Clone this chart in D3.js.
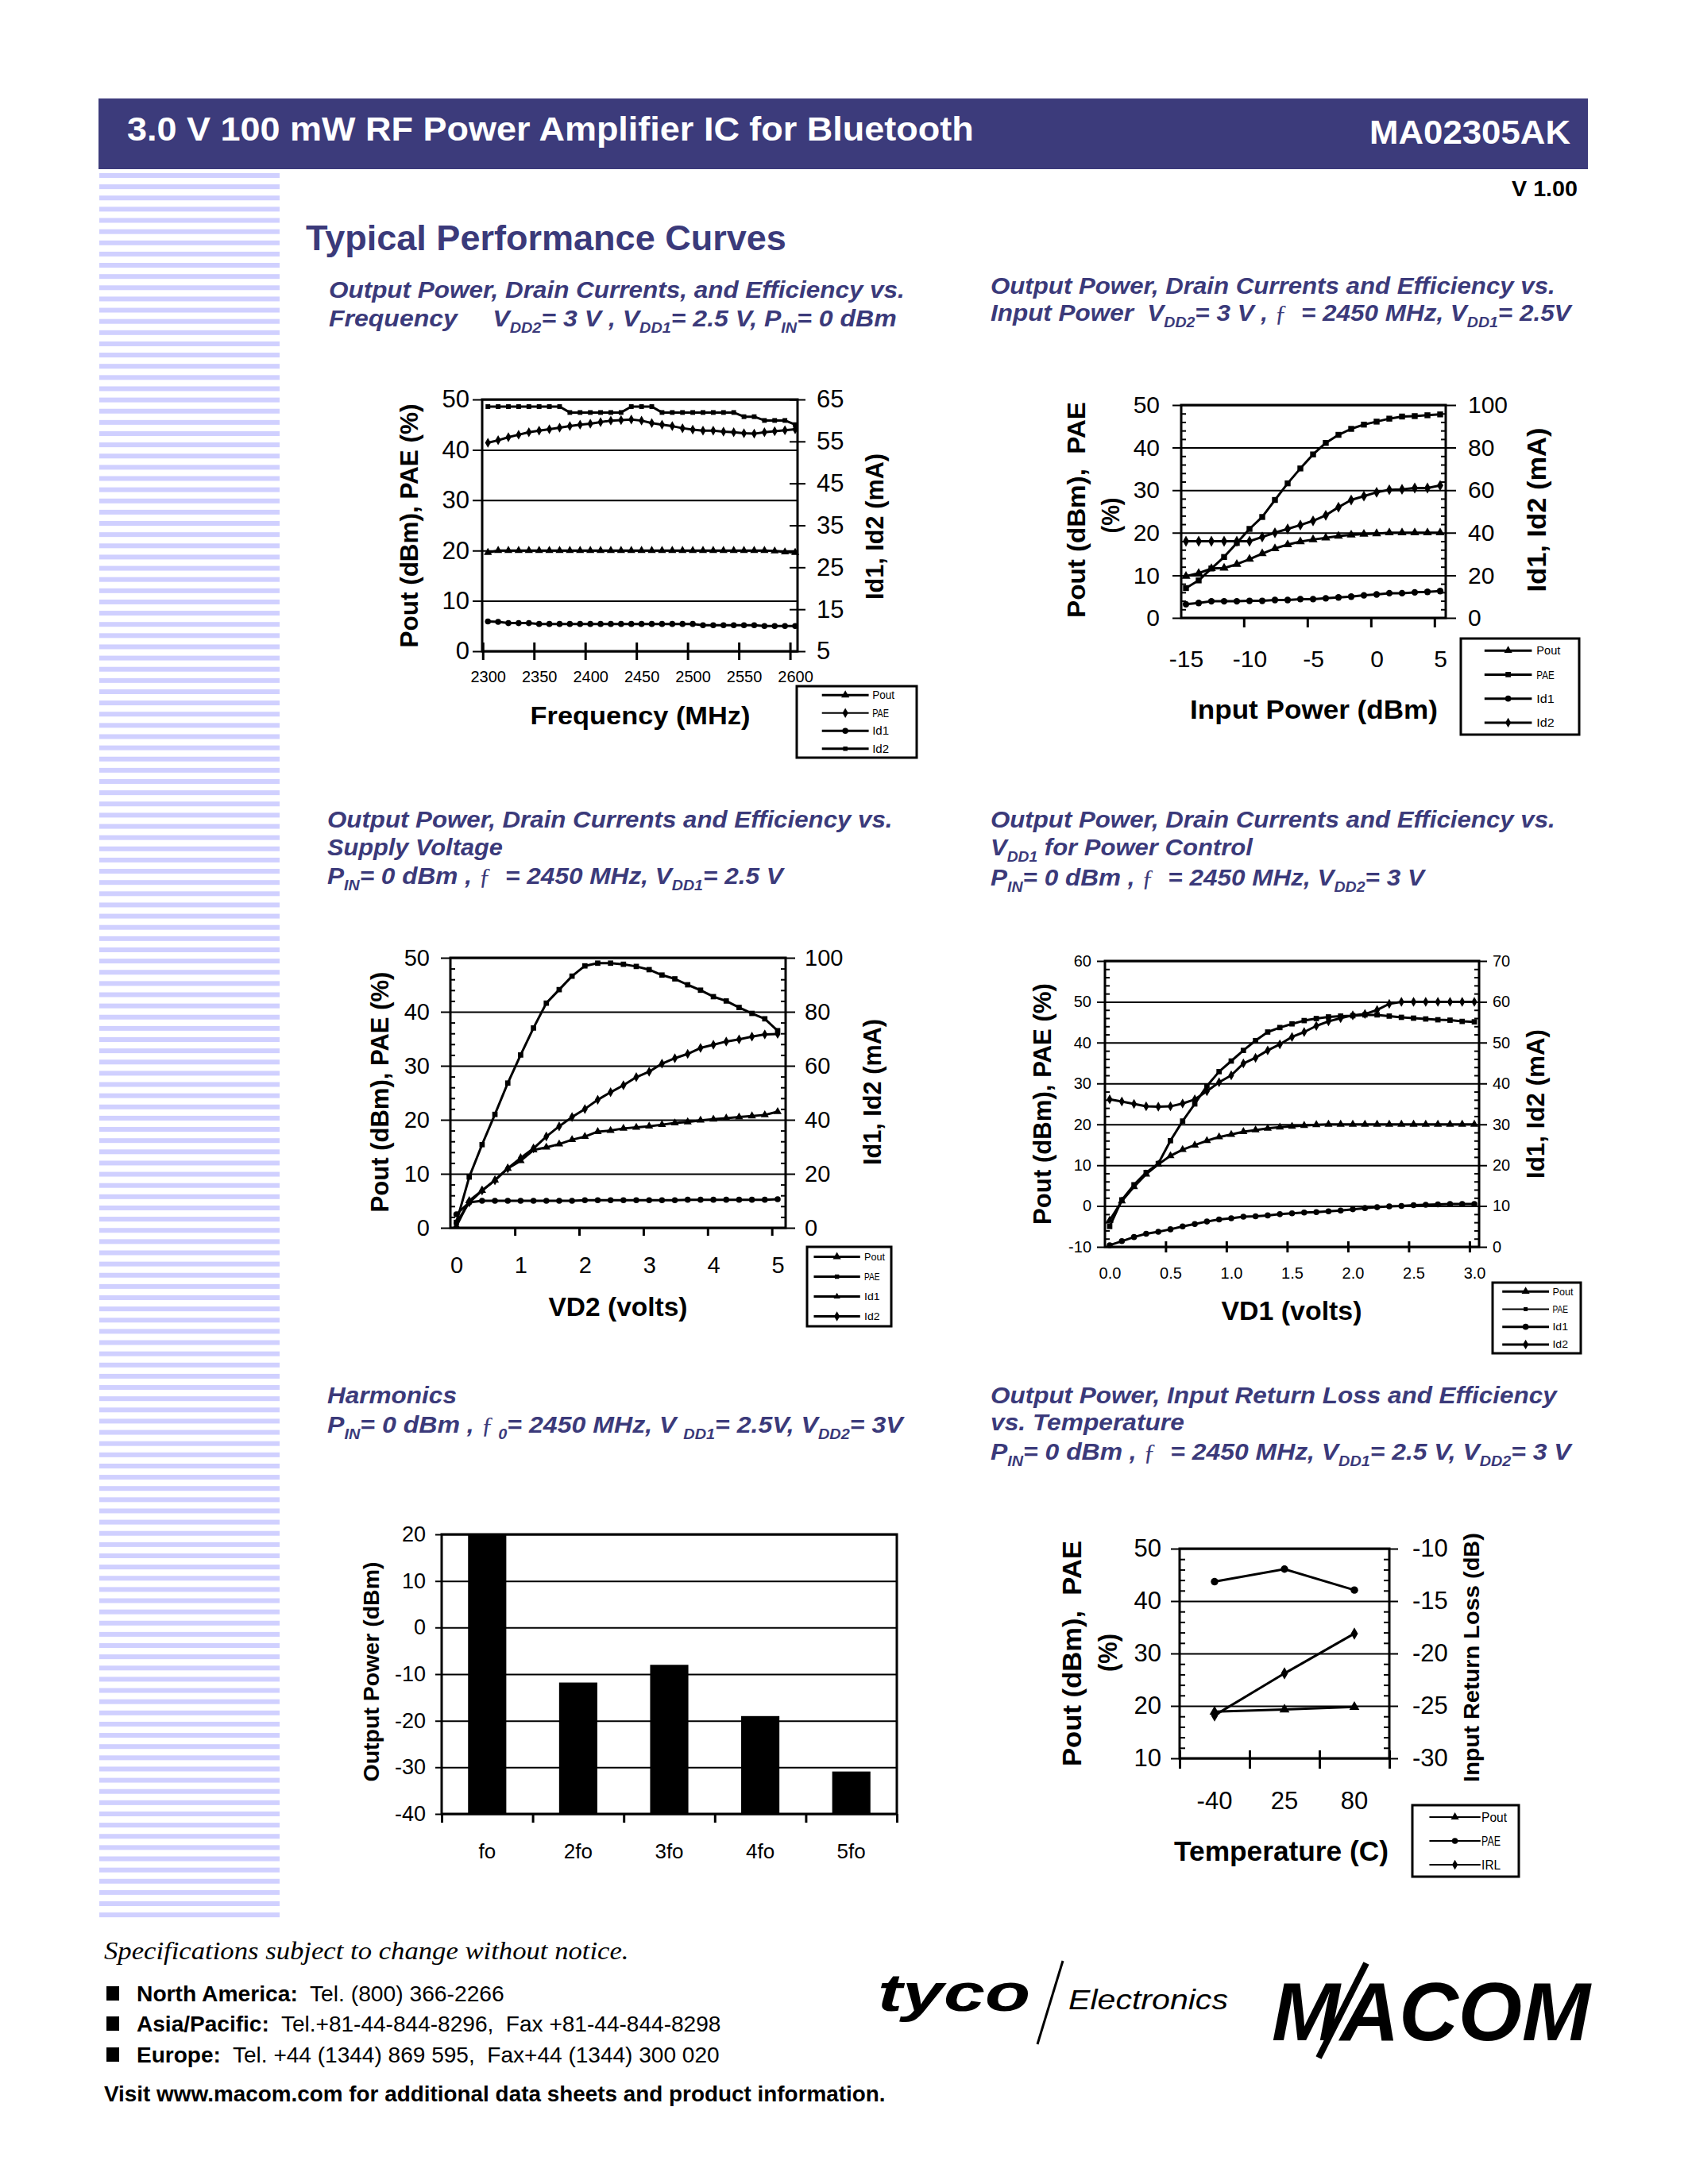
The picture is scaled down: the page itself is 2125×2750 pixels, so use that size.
<!DOCTYPE html>
<html><head><meta charset="utf-8">
<script src="https://cdn.jsdelivr.net/npm/d3@7"></script>
<style>
html,body{margin:0;padding:0;background:#fff;}
svg{display:block;}
</style></head><body>
<svg id="page" width="2125" height="2750"></svg>
<script>
// ---------------- DATA ----------------
// Chart 1: vs Frequency
const freqMHz = [2300,2310,2320,2330,2340,2350,2360,2370,2380,2390,2400,2410,2420,2430,2440,2450,2460,2470,2480,2490,2500,2510,2520,2530,2540,2550,2560,2570,2580,2590,2600];
const freqPout = [19.6,20.0,20.0,20.0,20.0,20.0,20.0,20.0,20.0,20.0,20.0,20.0,20.0,20.0,20.0,20.0,20.0,20.0,20.0,20.0,20.0,20.0,20.0,20.0,20.0,20.0,20.0,20.0,19.9,19.7,19.6];
const freqPAE = [41.4,41.9,42.5,43.0,43.5,43.8,44.1,44.4,44.7,45.0,45.2,45.5,45.8,45.9,46.0,45.8,45.3,45.0,44.7,44.3,44.0,43.8,43.8,43.6,43.5,43.3,43.2,43.5,43.7,43.9,44.1];
const freqId1 = [12.1,12.0,11.7,11.7,11.7,11.5,11.5,11.5,11.5,11.5,11.5,11.5,11.5,11.5,11.5,11.5,11.5,11.5,11.5,11.5,11.5,11.2,11.2,11.2,11.2,11.2,11.2,11.0,11.0,11.0,11.0];
const freqId2 = [63.3,63.3,63.3,63.3,63.3,63.3,63.3,63.3,61.9,61.9,61.9,61.9,61.9,61.9,63.3,63.3,63.3,61.9,61.9,61.9,61.9,61.9,61.9,61.9,61.9,60.9,60.9,60.0,60.0,60.0,59.0];
const freqLabels = [2300,2350,2400,2450,2500,2550,2600];

// Chart 2: vs Input Power
const pinDbm = [-15,-14,-13,-12,-11,-10,-9,-8,-7,-6,-5,-4,-3,-2,-1,0,1,2,3,4,5];
const pinPout = [9.8,10.5,11.6,11.7,12.6,13.8,15.1,16.3,17.2,17.9,18.4,18.8,19.2,19.5,19.7,19.8,20.0,20.0,20.0,20.0,20.0];
const pinPAE = [7.0,8.8,11.6,14.3,17.6,20.9,23.7,27.7,31.6,35.1,38.4,41.1,43.0,44.4,45.4,46.1,46.8,47.3,47.4,47.6,47.8];
const pinId1 = [6.4,7.0,7.8,7.8,7.8,8.0,8.0,8.4,8.4,8.8,8.8,9.2,9.6,10.0,10.6,11.0,11.6,11.6,12.0,12.2,12.6];
const pinId2 = [36,36,36,36,36,36,38,40,41.8,43.6,45.6,48.2,52,55.4,57.2,59,60.2,60.4,61,61,62.2];
const pinLabels = [-15,-10,-5,0,5];

// Chart 3: vs VD2
const vd2Volts = [0,0.2,0.4,0.6,0.8,1.0,1.2,1.4,1.6,1.8,2.0,2.2,2.4,2.6,2.8,3.0,3.2,3.4,3.6,3.8,4.0,4.2,4.4,4.6,4.8,5.0];
const vd2Pout = [0.3,5.0,6.9,8.8,11.0,12.4,14.4,14.9,15.5,16.3,16.9,17.8,18.0,18.4,18.6,18.8,19.1,19.4,19.6,19.9,20.1,20.3,20.5,20.7,20.9,21.5];
const vd2PAE = [1.0,9.4,15.4,21.0,26.8,32.0,37.0,41.6,44.1,46.6,48.5,49.0,49.0,48.8,48.4,47.8,46.8,46.1,45.0,44.0,42.8,42.0,40.8,39.7,38.7,36.5];
const vd2Id1 = [5.0,9.4,10.0,10.0,10.0,10.0,10.0,10.0,10.0,10.0,10.2,10.2,10.2,10.2,10.2,10.2,10.2,10.2,10.4,10.4,10.4,10.4,10.4,10.4,10.4,10.6];
const vd2Id2 = [1.8,9.4,13.8,17.6,22.0,25.8,29.4,33.8,37.6,41.0,44.0,47.4,50.2,52.8,55.8,57.8,60.8,62.8,64.4,66.6,67.8,69.0,69.8,70.8,71.6,71.8];
const vd2Labels = [0,1,2,3,4,5];

// Chart 4: vs VD1
const vd1Volts = [0.0,0.1,0.2,0.3,0.4,0.5,0.6,0.7,0.8,0.9,1.0,1.1,1.2,1.3,1.4,1.5,1.6,1.7,1.8,1.9,2.0,2.1,2.2,2.3,2.4,2.5,2.6,2.7,2.8,2.9,3.0];
const vd1Pout = [-3.5,1.2,4.7,7.8,10.2,12.3,13.8,14.9,16.0,16.9,17.5,18.2,18.6,19.0,19.3,19.5,19.7,19.9,20.0,20.0,20.0,20.0,20.0,20.0,20.0,20.0,20.0,20.0,20.0,20.0,20.0];
const vd1PAE = [-5.0,1.5,5.2,8.2,10.4,16.0,20.8,25.0,29.4,32.9,35.5,38.1,40.5,42.6,43.7,44.6,45.4,45.9,46.3,46.5,46.6,46.8,46.8,46.5,46.2,46.0,45.8,45.6,45.5,45.2,45.1];
const vd1Id1 = [0.4,1.4,2.4,3.2,3.7,4.3,5.0,5.6,6.2,6.7,7.0,7.4,7.5,7.7,8.0,8.2,8.4,8.5,8.7,8.9,9.2,9.5,9.7,9.9,10.0,10.2,10.3,10.4,10.5,10.5,10.5];
const vd1Id2 = [36.1,35.6,35.0,34.4,34.3,34.4,35.1,36.1,38.1,40.3,42.0,44.9,46.3,48.1,49.6,51.4,52.6,54.1,55.2,56.0,56.7,57.0,58.0,59.5,60.0,60.0,60.0,60.0,60.0,60.0,60.0];
const vd1Labels = [0.0,0.5,1.0,1.5,2.0,2.5,3.0];

// Chart 5: Harmonics
const harmonics = ["fo","2fo","3fo","4fo","5fo"];
const harmPower = [20,-11.8,-8.0,-19.0,-30.9];
const harmTicks = [-40,-30,-20,-10,0,10,20];

// Chart 6: vs Temperature
const tempC = ["-40","25","80"];
const tempPout = [18.9,19.3,19.8];
const tempPAE = [43.7,46.1,42.1];
const tempIRL = [-25.9,-21.9,-18.1];

// ---------------- HELPERS ----------------
const FONT = '"Liberation Sans", Arial, Helvetica, sans-serif';
const SERIF = '"Liberation Serif", "Times New Roman", serif';
const PURPLE = '#3b3a7a';
const svg = d3.select('#page');
const fmt = v => String(v);

function txt(parent, o) {
  const g = parent.append('g').attr('transform', `translate(${o.x},${o.y})${o.rot ? ` rotate(${o.rot})` : ''}`);
  const t = g.append('text').attr('text-anchor', o.anchor || 'start')
    .attr('font-size', o.fs).attr('font-weight', o.fw || 'normal')
    .attr('font-style', o.fst || 'normal').attr('fill', o.fill || '#000')
    .style('font-family', o.ff || FONT).style('white-space', 'pre');
  if (o.dy) t.attr('dy', o.dy);
  const parts = o.parts || [{t: o.text}];
  let shifted = false;
  parts.forEach(p => {
    const s = t.append('tspan').text(p.t);
    if (p.sub) {
      s.attr('font-size', o.fs * 0.62);
      if (!shifted) { s.attr('dy', o.fs * 0.25); shifted = true; }
    } else if (shifted) { s.attr('dy', -o.fs * 0.25); shifted = false; }
    if (p.serif) s.style('font-family', SERIF).attr('font-weight', 'normal').attr('font-style', 'normal');
    if (p.fw) s.attr('font-weight', p.fw);
  });
  if (o.w) {
    const L = t.node().getComputedTextLength();
    if (L > 0) t.attr('transform', `scale(${o.w / L},1)`);
  }
  return t;
}

function axisG(parent, tx, ty, axis, o = {}) {
  const a = parent.append('g').attr('transform', `translate(${tx},${ty})`).call(axis);
  a.select('.domain').remove();
  a.selectAll('line').attr('stroke', '#000').attr('stroke-width', o.sw || 2);
  a.selectAll('text').attr('font-size', o.fs || 20).attr('fill', '#000').style('font-family', FONT);
  if (o.baseline) a.selectAll('text').attr('y', 0).attr('dy', 0);
  return a;
}

function legend(box, entries, o) {
  const g = svg.append('g');
  const w = box[2] - box[0], h = box[3] - box[1], n = entries.length;
  g.append('rect').attr('x', box[0]).attr('y', box[1]).attr('width', w).attr('height', h)
    .attr('fill', '#fff').attr('stroke', '#000').attr('stroke-width', 3);
  entries.forEach((e, i) => {
    const y = box[1] + h * (i + 0.5) / n;
    g.append('line').attr('x1', box[0] + o.l0 * w).attr('x2', box[0] + o.l1 * w)
      .attr('y1', y).attr('y2', y).attr('stroke', '#000').attr('stroke-width', e.sw || 3);
    g.append('path').attr('transform', `translate(${box[0] + (o.l0 + o.l1) / 2 * w},${y})`)
      .attr('d', d3.symbol(e.sym, e.size || 45)()).attr('fill', '#000');
    txt(g, {x: box[0] + o.t * w, y: y, dy: '0.35em', fs: o.fs, text: e.name, w: o.fs * 0.5 * e.name.length * (o.squeeze || 1)});
  });
}

function lineChart(c) {
  const g = svg.append('g');
  const W = c.x1 - c.x0;
  const x = d3.scaleLinear().domain(c.xDomain).range([c.x0, c.x1]);
  const yL = d3.scaleLinear().domain(c.yLDomain).range([c.y1, c.y0]);
  const yR = d3.scaleLinear().domain(c.yRDomain).range([c.y1, c.y0]);
  // gridlines (with outward ticks)
  axisG(g, c.x0 - c.gridL, 0, d3.axisRight(yL).tickValues(c.gridVals).tickSize(W + c.gridL + c.gridR).tickFormat(''), {sw: 2});
  // minor ticks
  if (c.minor) {
    axisG(g, c.x0, 0, d3.axisRight(yL).tickValues(c.minor).tickSize(c.minorLen).tickFormat(''), {sw: 2});
    axisG(g, c.x1, 0, d3.axisLeft(yL).tickValues(c.minor).tickSize(c.minorLen).tickFormat(''), {sw: 2});
  }
  // right axis major ticks
  if (c.rTicksCross) {
    axisG(g, c.x1 - c.rTicksCross[0], 0, d3.axisRight(yR).tickValues(c.yRTicks).tickSize(c.rTicksCross[0] + c.rTicksCross[1]).tickFormat(''), {sw: 2});
  }
  // x ticks
  axisG(g, 0, c.y1 - c.xTickUp, d3.axisBottom(x).tickValues(c.xTickVals).tickSize(c.xTickUp + c.xTickDown).tickFormat(''), {sw: 3});
  // frame
  g.append('rect').attr('x', c.x0).attr('y', c.y0).attr('width', W).attr('height', c.y1 - c.y0)
    .attr('fill', 'none').attr('stroke', '#000').attr('stroke-width', 3);
  // labels
  axisG(g, c.x0 - c.lPad, 0, d3.axisLeft(yL).tickValues(c.yLTicks).tickSize(0).tickPadding(0).tickFormat(fmt), {fs: c.yFs});
  axisG(g, c.x1 + c.rPad, 0, d3.axisRight(yR).tickValues(c.yRTicks).tickSize(0).tickPadding(0).tickFormat(fmt), {fs: c.yFs});
  axisG(g, 0, c.xLabelY, d3.axisBottom(x).tickValues(c.xLabels).tickSize(0).tickPadding(0).tickFormat(c.xFmt || fmt), {fs: c.xFs, baseline: true});
  // series
  c.series.forEach(s => {
    const ys = s.axis === 'R' ? yR : yL;
    const pts = s.x.map((xv, i) => [xv, s.y[i]]);
    g.append('path').datum(pts)
      .attr('d', d3.line().x(d => x(d[0])).y(d => ys(d[1])))
      .attr('fill', 'none').attr('stroke', '#000').attr('stroke-width', s.sw || 3).attr('stroke-linejoin', 'round');
    g.selectAll(null).data(pts).join('path')
      .attr('transform', d => `translate(${x(d[0])},${ys(d[1])})`)
      .attr('d', d3.symbol(s.sym, s.size || 45)()).attr('fill', '#000');
  });
  return g;
}

// ---------------- PAGE DECORATION ----------------
// left stripes
for (let i = 0; i < 156; i++) {
  svg.append('rect').attr('x', 125).attr('y', 218 + i * 14.13).attr('width', 227).attr('height', 6).attr('fill', '#d0d0ff');
}
// header bar
svg.append('rect').attr('x', 124).attr('y', 124).attr('width', 1875).attr('height', 89).attr('fill', '#3c3b7b');
txt(svg, {x: 160, y: 177, fs: 42, fw: 'bold', fill: '#fff', text: '3.0 V 100 mW RF Power Amplifier IC for Bluetooth', w: 1066});
txt(svg, {x: 1977, y: 181, fs: 43, fw: 'bold', fill: '#fff', anchor: 'end', text: 'MA02305AK', w: 253});
txt(svg, {x: 1986, y: 247, fs: 28, fw: 'bold', anchor: 'end', text: 'V 1.00', w: 83});
txt(svg, {x: 385, y: 315, fs: 45, fw: 'bold', fill: PURPLE, text: 'Typical Performance Curves', w: 605});

// ---------------- CHART TITLES ----------------
function title(x, y, w, parts) {
  txt(svg, {x, y, fs: 30, fw: 'bold', fst: 'italic', fill: PURPLE, parts: typeof parts === 'string' ? [{t: parts}] : parts, w});
}
title(414, 375, 725, 'Output Power, Drain Currents, and Efficiency vs.');
title(414, 411, 715, [{t: 'Frequency     V'}, {t: 'DD2', sub: 1}, {t: '= 3 V , V'}, {t: 'DD1', sub: 1}, {t: '= 2.5 V, P'}, {t: 'IN', sub: 1}, {t: '= 0 dBm'}]);

title(1247, 370, 711, 'Output Power, Drain Currents and Efficiency vs.');
title(1247, 404, 731, [{t: 'Input Power  V'}, {t: 'DD2', sub: 1}, {t: '= 3 V , '}, {t: 'ƒ', serif: 1}, {t: '  = 2450 MHz, V'}, {t: 'DD1', sub: 1}, {t: '= 2.5V'}]);

title(412, 1042, 712, 'Output Power, Drain Currents and Efficiency vs.');
title(412, 1077, 221, 'Supply Voltage');
title(412, 1113, 574, [{t: 'P'}, {t: 'IN', sub: 1}, {t: '= 0 dBm , '}, {t: 'ƒ', serif: 1}, {t: '  = 2450 MHz, V'}, {t: 'DD1', sub: 1}, {t: '= 2.5 V'}]);

title(1247, 1042, 711, 'Output Power, Drain Currents and Efficiency vs.');
title(1247, 1077, 330, [{t: 'V'}, {t: 'DD1', sub: 1}, {t: ' for Power Control'}]);
title(1247, 1115, 546, [{t: 'P'}, {t: 'IN', sub: 1}, {t: '= 0 dBm , '}, {t: 'ƒ', serif: 1}, {t: '  = 2450 MHz, V'}, {t: 'DD2', sub: 1}, {t: '= 3 V'}]);

title(412, 1767, 163, 'Harmonics');
title(412, 1804, 725, [{t: 'P'}, {t: 'IN', sub: 1}, {t: '= 0 dBm , '}, {t: 'ƒ', serif: 1}, {t: ' 0', sub: 1}, {t: '= 2450 MHz, V '}, {t: 'DD1', sub: 1}, {t: '= 2.5V, V'}, {t: 'DD2', sub: 1}, {t: '= 3V'}]);

title(1247, 1767, 713, 'Output Power, Input Return Loss and Efficiency');
title(1247, 1801, 244, 'vs. Temperature');
title(1247, 1838, 731, [{t: 'P'}, {t: 'IN', sub: 1}, {t: '= 0 dBm , '}, {t: 'ƒ', serif: 1}, {t: '  = 2450 MHz, V'}, {t: 'DD1', sub: 1}, {t: '= 2.5 V, V'}, {t: 'DD2', sub: 1}, {t: '= 3 V'}]);

// ---------------- CHART 1 ----------------
lineChart({
  x0: 607, x1: 1004, y0: 503, y1: 820,
  xDomain: [2294.4, 2602.3], xLabels: freqLabels, xTickVals: freqLabels.map(v => v - 5),
  xTickUp: 11, xTickDown: 11, xLabelY: 859, xFs: 20,
  yLDomain: [0, 50], yLTicks: [0, 10, 20, 30, 40, 50], gridVals: [0, 10, 20, 30, 40, 50], gridL: 12, gridR: 0,
  yRDomain: [5, 65], yRTicks: [5, 15, 25, 35, 45, 55, 65], rTicksCross: [10, 10],
  lPad: 16, rPad: 24, yFs: 31,
  series: [
    {x: freqMHz, y: freqPout, sym: d3.symbolTriangle, axis: 'L'},
    {x: freqMHz, y: freqPAE, sym: d3.symbolDiamond, axis: 'L'},
    {x: freqMHz, y: freqId1, sym: d3.symbolCircle, axis: 'R'},
    {x: freqMHz, y: freqId2, sym: d3.symbolSquare, axis: 'R', size: 35}
  ]
});
txt(svg, {x: 515, y: 662, rot: -90, anchor: 'middle', dy: '0.35em', fs: 31, fw: 'bold', text: 'Pout (dBm), PAE (%)', w: 307});
txt(svg, {x: 1101, y: 663, rot: -90, anchor: 'middle', dy: '0.35em', fs: 31, fw: 'bold', text: 'Id1, Id2 (mA)', w: 184});
txt(svg, {x: 806, y: 912, anchor: 'middle', fs: 32, fw: 'bold', text: 'Frequency (MHz)', w: 277});
legend([1003, 864, 1154, 954], [
  {name: 'Pout', sym: d3.symbolTriangle}, {name: 'PAE', sym: d3.symbolDiamond, sw: 2},
  {name: 'Id1', sym: d3.symbolCircle}, {name: 'Id2', sym: d3.symbolSquare, size: 30}
], {l0: 0.21, l1: 0.6, t: 0.63, fs: 14});

// ---------------- CHART 2 ----------------
const minor50 = [2,4,6,8,12,14,16,18,22,24,26,28,32,34,36,38,42,44,46,48];
lineChart({
  x0: 1487, x1: 1820, y0: 510, y1: 778,
  xDomain: [-15.375, 5.4375], xLabels: pinLabels, xTickVals: [-10.45, -5.45, -0.45, 4.55],
  xTickUp: 0, xTickDown: 12, xLabelY: 840, xFs: 30,
  yLDomain: [0, 50], yLTicks: [0, 10, 20, 30, 40, 50], gridVals: [0, 10, 20, 30, 40, 50], gridL: 11, gridR: 13,
  minor: minor50, minorLen: 6,
  yRDomain: [0, 100], yRTicks: [0, 20, 40, 60, 80, 100],
  lPad: 27, rPad: 28, yFs: 30,
  series: [
    {x: pinDbm, y: pinPout, sym: d3.symbolTriangle, axis: 'L', size: 55},
    {x: pinDbm, y: pinPAE, sym: d3.symbolSquare, axis: 'L', size: 55},
    {x: pinDbm, y: pinId1, sym: d3.symbolCircle, axis: 'R', size: 55},
    {x: pinDbm, y: pinId2, sym: d3.symbolDiamond, axis: 'R', size: 55}
  ]
});
txt(svg, {x: 1355, y: 642, rot: -90, anchor: 'middle', dy: '0.35em', fs: 32, fw: 'bold', text: 'Pout (dBm),  PAE', w: 272});
txt(svg, {x: 1398, y: 649, rot: -90, anchor: 'middle', dy: '0.35em', fs: 32, fw: 'bold', text: '(%)', w: 45});
txt(svg, {x: 1934, y: 642, rot: -90, anchor: 'middle', dy: '0.35em', fs: 34, fw: 'bold', text: 'Id1, Id2 (mA)', w: 207});
txt(svg, {x: 1654, y: 905, anchor: 'middle', fs: 34, fw: 'bold', text: 'Input Power (dBm)', w: 312});
legend([1839, 804, 1988, 925], [
  {name: 'Pout', sym: d3.symbolTriangle}, {name: 'PAE', sym: d3.symbolSquare},
  {name: 'Id1', sym: d3.symbolCircle}, {name: 'Id2', sym: d3.symbolDiamond}
], {l0: 0.2, l1: 0.6, t: 0.64, fs: 15});

// ---------------- CHART 3 ----------------
lineChart({
  x0: 567, x1: 989, y0: 1206, y1: 1546,
  xDomain: [-0.093, 5.124], xLabels: vd2Labels, xTickVals: [0.91, 1.91, 2.91, 3.91, 4.91],
  xTickUp: 0, xTickDown: 10, xLabelY: 1603, xFs: 29,
  yLDomain: [0, 50], yLTicks: [0, 10, 20, 30, 40, 50], gridVals: [0, 10, 20, 30, 40, 50], gridL: 12, gridR: 12,
  minor: minor50, minorLen: 6,
  yRDomain: [0, 100], yRTicks: [0, 20, 40, 60, 80, 100],
  lPad: 26, rPad: 24, yFs: 29,
  series: [
    {x: vd2Volts, y: vd2Pout, sym: d3.symbolTriangle, axis: 'L'},
    {x: vd2Volts, y: vd2PAE, sym: d3.symbolSquare, axis: 'L'},
    {x: vd2Volts, y: vd2Id1, sym: d3.symbolCircle, axis: 'R'},
    {x: vd2Volts, y: vd2Id2, sym: d3.symbolDiamond, axis: 'R'}
  ]
});
txt(svg, {x: 478, y: 1375, rot: -90, anchor: 'middle', dy: '0.35em', fs: 31, fw: 'bold', text: 'Pout (dBm), PAE (%)', w: 303});
txt(svg, {x: 1098, y: 1375, rot: -90, anchor: 'middle', dy: '0.35em', fs: 31, fw: 'bold', text: 'Id1, Id2 (mA)', w: 184});
txt(svg, {x: 778, y: 1657, anchor: 'middle', fs: 33, fw: 'bold', text: 'VD2 (volts)', w: 175});
legend([1016, 1570, 1122, 1670], [
  {name: 'Pout', sym: d3.symbolTriangle}, {name: 'PAE', sym: d3.symbolSquare, size: 30},
  {name: 'Id1', sym: d3.symbolTriangle, size: 30}, {name: 'Id2', sym: d3.symbolDiamond}
], {l0: 0.08, l1: 0.63, t: 0.68, fs: 13});

// ---------------- CHART 4 ----------------
lineChart({
  x0: 1391, x1: 1862, y0: 1210, y1: 1570,
  xDomain: [-0.039, 3.039], xLabels: vd1Labels, xTickVals: [0.46, 0.96, 1.46, 1.96, 2.46, 2.96],
  xTickUp: 7, xTickDown: 7, xLabelY: 1610, xFs: 20, xFmt: v => v.toFixed(1),
  yLDomain: [-10, 60], yLTicks: [-10, 0, 10, 20, 30, 40, 50, 60], gridVals: [-10, 0, 10, 20, 30, 40, 50, 60], gridL: 10, gridR: 10,
  minor: [-8,-6,-4,-2,2,4,6,8,12,14,16,18,22,24,26,28,32,34,36,38,42,44,46,48,52,54,56,58], minorLen: 6,
  yRDomain: [0, 70], yRTicks: [0, 10, 20, 30, 40, 50, 60, 70],
  lPad: 17, rPad: 17, yFs: 20,
  series: [
    {x: vd1Volts, y: vd1Pout, sym: d3.symbolTriangle, axis: 'L'},
    {x: vd1Volts, y: vd1PAE, sym: d3.symbolSquare, axis: 'L'},
    {x: vd1Volts, y: vd1Id1, sym: d3.symbolCircle, axis: 'R'},
    {x: vd1Volts, y: vd1Id2, sym: d3.symbolDiamond, axis: 'R'}
  ]
});
txt(svg, {x: 1312, y: 1390, rot: -90, anchor: 'middle', dy: '0.35em', fs: 31, fw: 'bold', text: 'Pout (dBm), PAE (%)', w: 304});
txt(svg, {x: 1933, y: 1390, rot: -90, anchor: 'middle', dy: '0.35em', fs: 31, fw: 'bold', text: 'Id1, Id2 (mA)', w: 188});
txt(svg, {x: 1626, y: 1662, anchor: 'middle', fs: 33, fw: 'bold', text: 'VD1 (volts)', w: 177});
legend([1879, 1615, 1990, 1704], [
  {name: 'Pout', sym: d3.symbolTriangle}, {name: 'PAE', sym: d3.symbolSquare, size: 25, sw: 2},
  {name: 'Id1', sym: d3.symbolCircle}, {name: 'Id2', sym: d3.symbolDiamond}
], {l0: 0.11, l1: 0.64, t: 0.68, fs: 13});

// ---------------- CHART 5 (Harmonics) ----------------
(function () {
  const x0 = 556, x1 = 1129, y0 = 1932, y1 = 2284;
  const g = svg.append('g');
  const xb = d3.scaleBand().domain(harmonics).range([x0, x1]).paddingInner(0.58).paddingOuter(0.29);
  const xs = d3.scaleLinear().domain([0, harmonics.length]).range([x0, x1]);
  const y = d3.scaleLinear().domain([-40, 20]).range([y1, y0]);
  axisG(g, x0 - 8, 0, d3.axisRight(y).tickValues(harmTicks).tickSize(x1 - x0 + 8).tickFormat(''), {sw: 2});
  axisG(g, 0, y1, d3.axisBottom(xs).tickValues([0, 1, 2, 3, 4, 5]).tickSize(11).tickFormat(''), {sw: 3});
  g.selectAll(null).data(harmonics).join('rect')
    .attr('x', d => xb(d)).attr('width', xb.bandwidth())
    .attr('y', (d, i) => y(harmPower[i])).attr('height', (d, i) => y1 - y(harmPower[i]))
    .attr('fill', '#000');
  g.append('rect').attr('x', x0).attr('y', y0).attr('width', x1 - x0).attr('height', y1 - y0)
    .attr('fill', 'none').attr('stroke', '#000').attr('stroke-width', 3);
  axisG(g, x0 - 20, 0, d3.axisLeft(y).tickValues(harmTicks).tickSize(0).tickPadding(0).tickFormat(fmt), {fs: 27});
  axisG(g, 0, 2340, d3.axisBottom(xb).tickSize(0).tickPadding(0), {fs: 26, baseline: true});
  txt(svg, {x: 468, y: 2105, rot: -90, anchor: 'middle', dy: '0.35em', fs: 27, fw: 'bold', text: 'Output Power (dBm)', w: 277});
})();

// ---------------- CHART 6 (Temperature) ----------------
(function () {
  const x0 = 1485, x1 = 1749, y0 = 1950, y1 = 2214;
  const g = svg.append('g');
  const xb = d3.scaleBand().domain(tempC).range([x0, x1]);
  const xs = d3.scaleLinear().domain([0, tempC.length]).range([x0, x1]);
  const yL = d3.scaleLinear().domain([10, 50]).range([y1, y0]);
  const yR = d3.scaleLinear().domain([-30, -10]).range([y1, y0]);
  const minor = [12,14,16,18,22,24,26,28,32,34,36,38,42,44,46,48];
  axisG(g, x0 - 11, 0, d3.axisRight(yL).tickValues([10, 20, 30, 40, 50]).tickSize(x1 - x0 + 22).tickFormat(''), {sw: 2});
  axisG(g, x0, 0, d3.axisRight(yL).tickValues(minor).tickSize(7).tickFormat(''), {sw: 2});
  axisG(g, x1, 0, d3.axisLeft(yL).tickValues(minor).tickSize(7).tickFormat(''), {sw: 2});
  axisG(g, 0, y1 - 10, d3.axisBottom(xs).tickValues([0, 1, 2, 3]).tickSize(23).tickFormat(''), {sw: 3});
  g.append('rect').attr('x', x0).attr('y', y0).attr('width', x1 - x0).attr('height', y1 - y0)
    .attr('fill', 'none').attr('stroke', '#000').attr('stroke-width', 3);
  axisG(g, x0 - 23, 0, d3.axisLeft(yL).tickValues([10, 20, 30, 40, 50]).tickSize(0).tickPadding(0).tickFormat(fmt), {fs: 31});
  axisG(g, x1 + 29, 0, d3.axisRight(yR).tickValues([-30, -25, -20, -15, -10]).tickSize(0).tickPadding(0).tickFormat(fmt), {fs: 31});
  axisG(g, 0, 2278, d3.axisBottom(xb).tickSize(0).tickPadding(0), {fs: 31, baseline: true});
  const cx = d => xb(d) + xb.bandwidth() / 2;
  const series = [
    {y: tempPout, s: yL, sym: d3.symbolTriangle},
    {y: tempPAE, s: yL, sym: d3.symbolCircle},
    {y: tempIRL, s: yR, sym: d3.symbolDiamond}
  ];
  series.forEach(se => {
    const pts = tempC.map((c, i) => [c, se.y[i]]);
    g.append('path').datum(pts).attr('d', d3.line().x(d => cx(d[0])).y(d => se.s(d[1])))
      .attr('fill', 'none').attr('stroke', '#000').attr('stroke-width', 3);
    g.selectAll(null).data(pts).join('path')
      .attr('transform', d => `translate(${cx(d[0])},${se.s(d[1])})`)
      .attr('d', d3.symbol(se.sym, 70)()).attr('fill', '#000');
  });
  txt(svg, {x: 1349, y: 2082, rot: -90, anchor: 'middle', dy: '0.35em', fs: 33, fw: 'bold', text: 'Pout (dBm),  PAE', w: 284});
  txt(svg, {x: 1394, y: 2081, rot: -90, anchor: 'middle', dy: '0.35em', fs: 33, fw: 'bold', text: '(%)', w: 48});
  txt(svg, {x: 1852, y: 2087, rot: -90, anchor: 'middle', dy: '0.35em', fs: 28, fw: 'bold', text: 'Input Return Loss (dB)', w: 314});
  txt(svg, {x: 1613, y: 2343, anchor: 'middle', fs: 35, fw: 'bold', text: 'Temperature (C)', w: 270});
  legend([1778, 2273, 1912, 2363], [
    {name: 'Pout', sym: d3.symbolTriangle, sw: 2}, {name: 'PAE', sym: d3.symbolCircle, sw: 2}, {name: 'IRL', sym: d3.symbolDiamond, sw: 2}
  ], {l0: 0.16, l1: 0.64, t: 0.65, fs: 16});
})();

// ---------------- FOOTER ----------------
txt(svg, {x: 131, y: 2467, fs: 31, fst: 'italic', ff: SERIF, text: 'Specifications subject to change without notice.', w: 661});
const rows = [
  {y: 2520, b: 'North America:', r: '  Tel. (800) 366-2266', w: 463},
  {y: 2558, b: 'Asia/Pacific:', r: '  Tel.+81-44-844-8296,  Fax +81-44-844-8298', w: 736},
  {y: 2597, b: 'Europe:', r: '  Tel. +44 (1344) 869 595,  Fax+44 (1344) 300 020', w: 734}
];
rows.forEach(rw => {
  svg.append('rect').attr('x', 134).attr('y', rw.y - 19).attr('width', 16).attr('height', 18).attr('fill', '#000');
  txt(svg, {x: 172, y: rw.y, fs: 27, parts: [{t: rw.b, fw: 'bold'}, {t: rw.r}], w: rw.w});
});
txt(svg, {x: 131, y: 2646, fs: 27, fw: 'bold', text: 'Visit www.macom.com for additional data sheets and product information.', w: 984});
// logos
txt(svg, {x: 1105, y: 2532, fs: 66, fw: 'bold', fst: 'italic', text: 'tyco', w: 192});
svg.append('line').attr('x1', 1338).attr('y1', 2469).attr('x2', 1306).attr('y2', 2574).attr('stroke', '#000').attr('stroke-width', 3);
txt(svg, {x: 1345, y: 2530, fs: 36, fst: 'italic', text: 'Electronics', w: 201});
txt(svg, {x: 1601, y: 2569, fs: 104, fw: 'bold', fst: 'italic', text: 'MACOM', w: 401});
svg.append('line').attr('x1', 1720).attr('y1', 2472).attr('x2', 1660).attr('y2', 2591).attr('stroke', '#000').attr('stroke-width', 8);
</script>
</body></html>
